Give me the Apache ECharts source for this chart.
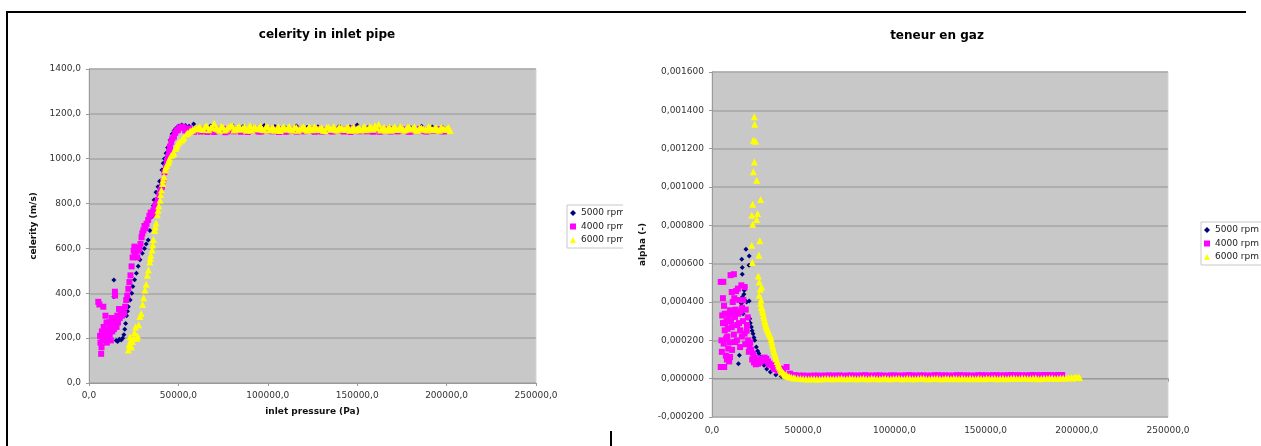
<!DOCTYPE html>
<html>
<head>
<meta charset="utf-8">
<script src="https://cdn.jsdelivr.net/npm/echarts@6/dist/echarts.min.js"></script>
<style>
  html, body { margin: 0; padding: 0; background: #fff; }
  #page { position: relative; width: 1261px; height: 446px; overflow: hidden; background: #fff; }
  #left { position: absolute; left: 0; top: 0; width: 623px; height: 446px; background: #fff; }
  #right { position: absolute; left: 623px; top: 0; width: 638px; height: 446px; background: #fff; }
  .rule { position: absolute; background: #000; }
</style>
</head>
<body>
<div id="page">
  <div id="left"></div>
  <div id="right"></div>
  <div class="rule" style="left:6px;top:11px;width:1240px;height:2px;"></div>
  <div class="rule" style="left:6px;top:11px;width:2px;height:435px;"></div>
  <div class="rule" style="left:610px;top:431px;width:2px;height:15px;"></div>
</div>
<script>
// ---- series names and legend ----
const seriesNames = ['5000 rpm', '4000 rpm', '6000 rpm'];
const seriesColors = ['#000080', '#ff00ff', '#ffff00'];
const seriesSymbols = ['diamond', 'rect', 'triangle'];
const seriesSizes = [5, 6, 7];

// ---- celerity in inlet pipe: [inlet pressure (Pa), celerity (m/s)] ----
const celerity5000 = [
  [13900,459],[13900,385],[14200,400],[15200,190],[16000,185],[17000,195],[18000,192],[18800,200],
  [19500,215],[20000,240],[20500,265],[21000,300],[21500,320],[22000,340],[23000,370],[23900,400],
  [24500,430],[25500,460],[26500,489],[27500,520],[28500,550],[29800,578],[31000,600],[32000,620],
  [33100,638],[34000,680],[35000,740],[36000,790],[36400,816],[37500,850],[38600,875],[39500,900],
  [40800,950],[41500,980],[42200,1000],[43100,1024],[44000,1050],[45300,1083],[46500,1110],
  [47500,1125],[48600,1135],[50000,1145],[51900,1150],[54000,1148],[56000,1145],[58500,1155],
  [62000,1140],[68000,1146],[74000,1138],[80000,1150],[86000,1142],[92000,1139],[98000,1148],
  [104000,1144],[110000,1137],[116000,1146],[122000,1140],[128000,1143],[134000,1138],[140000,1145],
  [146000,1141],[150000,1150],[156000,1139],[162000,1146],[168000,1140],[174000,1143],[180000,1138],
  [186000,1145],[192000,1141],[198000,1139]
];
const celerity4000 = [
  [5200,362],[5800,350],[6200,210],[6400,180],[6800,130],[7000,160],[7200,230],[7600,200],
  [8000,340],[8200,250],[8600,190],[9000,220],[9200,300],[9800,270],[10000,180],[10400,240],
  [10800,200],[11200,270],[11600,215],[12000,250],[12200,190],[12600,290],[13000,230],[13400,270],
  [14000,240],[14500,407],[14600,390],[15000,280],[15400,250],[15800,300],[16200,270],[16800,330],
  [17200,290],[17800,320],[18400,300],[19000,330],[19600,310],[20200,340],[20800,370],[21400,390],
  [22000,420],[22600,450],[23200,480],[23800,520],[24400,560],[25000,590],[25400,608],[25800,580],
  [26400,600],[27000,560],[27600,590],[28200,600],[28800,620],[29400,650],[29800,667],[30400,680],
  [31000,700],[31600,690],[32200,710],[33100,727],[33800,745],[34500,760],[35200,750],[36000,770],
  [36400,757],[37000,790],[37600,800],[38600,816],[39400,840],[40000,860],[40800,875],[41500,900],
  [42200,940],[43100,964],[43600,990],[44200,1009],[44800,1030],[45300,1054],[46000,1075],
  [46600,1090],[47500,1098],[48200,1115],[49000,1125],[49700,1128],[50500,1138],[51900,1143],
  [53000,1140],[55000,1132],[57500,1124],[60000,1128],[62500,1121],[65000,1130],[67500,1124],
  [70000,1119],[72500,1127],[75000,1133],[77500,1122],[80000,1126],[82500,1131],[85000,1120],
  [87500,1128],[90000,1124],[92500,1133],[95000,1121],[97500,1127],[100000,1130],[102500,1122],
  [105000,1126],[107500,1132],[110000,1120],[112500,1127],[115000,1124],[117500,1131],[120000,1122],
  [122500,1128],[125000,1125],[127500,1133],[130000,1121],[132500,1127],[135000,1123],[137500,1130],
  [140000,1126],[142500,1121],[145000,1129],[147500,1134],[150000,1124],[152500,1128],[155000,1122],
  [157500,1131],[160000,1125],[162500,1120],[165000,1129],[167500,1124],[170000,1132],[172500,1122],
  [175000,1127],[177500,1130],[180000,1121],[182500,1126],[185000,1133],[187500,1123],[190000,1128],
  [192500,1124],[195000,1131],[197500,1122],[200000,1127],
  [53750,1126],[56250,1135],[58750,1120],[61250,1131],[63750,1125],[66250,1119],[68750,1129],
  [71250,1123],[73750,1130],[76250,1118],[78750,1127],[81250,1122],[83750,1129],[86250,1124],
  [88750,1119],[91250,1130],[93750,1125],[96250,1121],[98750,1128],[101250,1124],[103750,1131],
  [106250,1119],[108750,1126],[111250,1123],[113750,1129],[116250,1121],[118750,1127],[121250,1124],
  [123750,1131],[126250,1120],[128750,1126],[131250,1123],[133750,1129],[136250,1121],[138750,1127],
  [141250,1124],[143750,1130],[146250,1119],[148750,1126],[151250,1122],[153750,1129],[156250,1124],
  [158750,1120],[161250,1127],[163750,1123],[166250,1130],[168750,1121],[171250,1126],[173750,1124],
  [176250,1129],[178750,1120],[181250,1127],[183750,1123],[186250,1130],[188750,1121],[191250,1126],
  [193750,1124],[196250,1129],[198750,1122]
];
const celerity6000 = [
  [22000,147],[22400,170],[22900,206],[23300,190],[23800,160],[24300,185],[25000,200],[25500,225],
  [26000,250],[26700,199],[27200,210],[27800,260],[28500,296],[29200,310],[30000,350],[30600,380],
  [31300,415],[32000,440],[32600,480],[33200,504],[34000,540],[34600,570],[35300,593],[36000,640],
  [36700,680],[37500,713],[38200,750],[39000,790],[39700,816],[40500,860],[41200,890],[41900,920],
  [42600,950],[43400,970],[44200,981],[45000,1000],[46000,1015],[47500,1025],[48500,1045],
  [49500,1065],[50500,1075],[51900,1083],[53000,1095],[54500,1110],[56300,1120],[58000,1128],
  [34300,555],[35700,615],[37100,695],[38600,770],[40100,840],[41500,905],[43000,962],[44600,990],
  [46800,1020],[49000,1055],[52500,1090],[55300,1115],[57000,1125],[59000,1132],
  [60000,1135],[62000,1142],[64000,1130],[66000,1146],[68000,1138],[70000,1158],[72000,1133],
  [74000,1145],[76000,1128],[78000,1140],[80000,1150],[82000,1131],[84000,1144],[86000,1136],
  [88000,1127],[90000,1148],[92000,1139],[94000,1132],[96000,1146],[98000,1129],[100000,1141],
  [102000,1135],[104000,1127],[106000,1143],[108000,1137],[110000,1131],[112000,1145],[114000,1128],
  [116000,1139],[118000,1133],[120000,1142],[122000,1127],[124000,1136],[126000,1144],[128000,1130],
  [130000,1138],[132000,1126],[134000,1141],[136000,1134],[138000,1129],[140000,1143],[142000,1132],
  [144000,1137],[146000,1127],[148000,1140],[150000,1135],[152000,1128],[154000,1144],[156000,1131],
  [158000,1139],[160000,1147],[162000,1154],[164000,1133],[166000,1127],[168000,1141],[170000,1136],
  [172000,1130],[174000,1145],[176000,1128],[178000,1138],[180000,1133],[182000,1142],[184000,1127],
  [186000,1137],[188000,1131],[190000,1144],[192000,1129],[194000,1139],[196000,1127],[198000,1136],
  [200000,1130],[201000,1140],[202000,1126],
  [61000,1138],[63000,1131],[65000,1144],[67000,1129],[69000,1141],[71000,1136],[73000,1127],
  [75000,1140],[77000,1133],[79000,1146],[81000,1128],[83000,1138],[85000,1131],[87000,1143],
  [89000,1134],[91000,1127],[93000,1140],[95000,1136],[97000,1130],[99000,1144],[101000,1128],
  [103000,1139],[105000,1133],[107000,1126],[109000,1142],[111000,1135],[113000,1129],[115000,1141],
  [117000,1127],[119000,1137],[121000,1132],[123000,1143],[125000,1129],[127000,1138],[129000,1134],
  [131000,1127],[133000,1140],[135000,1131],[137000,1144],[139000,1128],[141000,1136],[143000,1130],
  [145000,1141],[147000,1133],[149000,1127],[151000,1139],[153000,1135],[155000,1129],[157000,1142],
  [159000,1131],[161000,1137],[163000,1128],[165000,1140],[167000,1134],[169000,1127],[171000,1143],
  [173000,1131],[175000,1137],[177000,1129],[179000,1141],[181000,1134],[183000,1127],[185000,1139],
  [187000,1132],[189000,1128],[191000,1137],[193000,1133],[195000,1129],[197000,1140],[199000,1131]
];

// ---- teneur en gaz: [pressure (Pa), alpha (-)] ----
const alpha5000 = [
  [14500,0.000078],[15000,0.000122],[16300,0.000623],[16600,0.000580],[16600,0.000545],[18600,0.000675],
  [20400,0.000640],[20300,0.000592],[17700,0.000461],[18000,0.000409],[20400,0.000405],[16700,0.000426],
  [16100,0.000392],[17000,0.000339],[17500,0.000440],[18200,0.000480],[19000,0.000400],[20700,0.000313],
  [21000,0.000290],[21600,0.000269],[22000,0.000250],[22500,0.000235],[23000,0.000215],[23400,0.000200],
  [24300,0.000165],[25000,0.000145],[25700,0.000131],[26700,0.000113],[27500,0.000090],[28500,0.000070],
  [30000,0.000050],[32000,0.000035],[35000,0.000020],[38000,0.000012],[42000,0.000006],[48000,0.000003],
  [60000,0.000002],[80000,0.000003],[100000,0.000002],[120000,0.000004],[140000,0.000003],
  [160000,0.000004],[180000,0.000003],[200000,0.000005]
];
const alpha4000 = [
  [4800,0.000505],[4800,0.000061],[6200,0.000505],[5600,0.000330],[6000,0.000290],[6400,0.000183],
  [6700,0.000061],[7000,0.000339],[7000,0.000252],[7600,0.000120],[8000,0.000304],[8400,0.000220],
  [8900,0.000157],[9400,0.000090],[9900,0.000357],[9900,0.000113],[10200,0.000540],[10800,0.000452],
  [10800,0.000269],[11400,0.000400],[12000,0.000545],[12000,0.000230],[12600,0.000322],[12600,0.000191],
  [13200,0.000457],[13800,0.000280],[14400,0.000339],[15000,0.000410],[15400,0.000252],[15400,0.000165],
  [16100,0.000487],[16500,0.000370],[17000,0.000300],[17900,0.000478],[17900,0.000235],[18500,0.000360],
  [19200,0.000280],[19800,0.000200],[20700,0.000165],[21500,0.000150],[22500,0.000131],[23500,0.000110],
  [24300,0.000095],[25200,0.000078],[26500,0.000085],[27900,0.000096],[28800,0.000110],[29800,0.000104],
  [30700,0.000090],[31600,0.000078],[32600,0.000070],[33600,0.000061],[35000,0.000055],[37300,0.000052],
  [39000,0.000050],[40900,0.000061],[42800,0.000026],
  [5200,0.000200],[5400,0.000140],[6000,0.000420],[6600,0.000380],[7200,0.000290],[7800,0.000210],
  [8200,0.000100],[8600,0.000260],[9200,0.000330],[9600,0.000190],[10400,0.000300],[11000,0.000150],
  [11600,0.000340],[12200,0.000420],[13000,0.000360],[13600,0.000200],[14200,0.000470],[14800,0.000290],
  [15600,0.000350],[16400,0.000220],[17200,0.000410],[18200,0.000180],[19000,0.000250],[19600,0.000320],
  [20200,0.000140],[21000,0.000190],[22000,0.000100],[23000,0.000085],[24000,0.000075],[25800,0.000090],
  [27200,0.000105],[29200,0.000095],[31000,0.000075],[34000,0.000050],[36000,0.000040],
  [45000,0.000018],[46000,0.000017],[48000,0.000016],[50000,0.000016],[52000,0.000015],[54000,0.000015],
  [56000,0.000016],[58000,0.000016],[60000,0.000015],[62000,0.000016],[64000,0.000017],[66000,0.000016],
  [68000,0.000016],[70000,0.000017],[72000,0.000015],[74000,0.000016],[76000,0.000017],[78000,0.000016],
  [80000,0.000016],[82000,0.000017],[84000,0.000018],[86000,0.000016],[88000,0.000016],[90000,0.000017],
  [92000,0.000017],[94000,0.000016],[96000,0.000015],[98000,0.000017],[100000,0.000017],[102000,0.000016],
  [104000,0.000016],[106000,0.000017],[108000,0.000018],[110000,0.000017],[112000,0.000016],[114000,0.000017],
  [116000,0.000017],[118000,0.000016],[120000,0.000016],[122000,0.000018],[124000,0.000018],[126000,0.000017],
  [128000,0.000017],[130000,0.000016],[132000,0.000016],[134000,0.000018],[136000,0.000018],[138000,0.000017],
  [140000,0.000017],[142000,0.000016],[144000,0.000016],[146000,0.000018],[148000,0.000018],[150000,0.000017],
  [152000,0.000017],[154000,0.000018],[156000,0.000018],[158000,0.000017],[160000,0.000017],[162000,0.000018],
  [164000,0.000019],[166000,0.000018],[168000,0.000018],[170000,0.000017],[172000,0.000017],[174000,0.000018],
  [176000,0.000019],[178000,0.000018],[180000,0.000018],[182000,0.000019],[184000,0.000019],[186000,0.000018],
  [188000,0.000018],[190000,0.000019],[192000,0.000019]
];
const alpha6000 = [
  [23200,0.001366],[23400,0.001328],[22700,0.001244],[23900,0.001239],[23200,0.001131],[22700,0.001079],
  [24500,0.001035],[26700,0.000935],[22300,0.000910],[21800,0.000853],[25000,0.000862],[24500,0.000830],
  [22300,0.000806],[26200,0.000719],[21800,0.000696],[25700,0.000644],[22100,0.000606],[25400,0.000536],
  [25900,0.000505],[27200,0.000478],[26400,0.000466],[25900,0.000435],[26700,0.000392],[27100,0.000375],
  [27600,0.000357],[28200,0.000330],[28900,0.000304],[29500,0.000280],[30100,0.000265],[30700,0.000252],
  [31400,0.000235],[32200,0.000217],[32800,0.000190],[33500,0.000160],[34400,0.000131],[35200,0.000105],
  [36200,0.000078],[37000,0.000060],[38000,0.000043],[39300,0.000028],[40800,0.000017],[42500,0.000010],
  [26900,0.000410],[27400,0.000370],[27900,0.000345],[28500,0.000318],[29200,0.000292],[29800,0.000272],
  [30400,0.000258],[31000,0.000243],[31800,0.000226],[32500,0.000205],[33100,0.000175],[33900,0.000145],
  [34800,0.000118],[35700,0.000090],[36600,0.000068],[37500,0.000050],[38600,0.000035],[40000,0.000022],
  [41600,0.000013],[43500,0.000007],
  [44600,0.000005],[47000,0.000002],[50000,0.000000],[53000,-0.000002],[56000,0.000000],[59000,-0.000002],
  [62000,0.000001],[65000,-0.000001],[68000,0.000000],[71000,0.000002],[74000,-0.000001],[77000,0.000001],
  [80000,0.000000],[83000,0.000002],[86000,-0.000001],[89000,0.000001],[92000,0.000000],[95000,0.000002],
  [98000,0.000000],[101000,0.000001],[104000,-0.000001],[107000,0.000002],[110000,0.000000],
  [113000,0.000001],[116000,0.000002],[119000,0.000000],[122000,0.000001],[125000,-0.000001],
  [128000,0.000002],[131000,0.000000],[134000,0.000001],[137000,0.000002],[140000,0.000000],
  [143000,0.000001],[146000,0.000002],[149000,0.000000],[152000,0.000001],[155000,0.000002],
  [158000,0.000001],[161000,0.000000],[164000,0.000002],[167000,0.000001],[170000,0.000003],
  [173000,0.000001],[176000,0.000002],[179000,0.000000],[182000,0.000002],[185000,0.000003],
  [188000,0.000001],[191000,0.000003],[194000,0.000004],[197000,0.000006],[199000,0.000008],
  [201000,0.000005],
  [45500,0.000003],[48500,0.000001],[51500,-0.000001],[54500,0.000000],[57500,-0.000002],[60500,0.000000],
  [63500,0.000001],[66500,-0.000001],[69500,0.000001],[72500,0.000000],[75500,0.000002],[78500,-0.000001],
  [81500,0.000001],[84500,0.000000],[87500,0.000002],[90500,0.000000],[93500,0.000001],[96500,-0.000001],
  [99500,0.000001],[102500,0.000002],[105500,0.000000],[108500,0.000001],[111500,-0.000001],
  [114500,0.000002],[117500,0.000000],[120500,0.000001],[123500,0.000002],[126500,0.000000],
  [129500,0.000001],[132500,0.000002],[135500,0.000000],[138500,0.000001],[141500,0.000002],
  [144500,0.000000],[147500,0.000001],[150500,0.000002],[153500,0.000001],[156500,0.000000],
  [159500,0.000002],[162500,0.000001],[165500,0.000003],[168500,0.000001],[171500,0.000002],
  [174500,0.000001],[177500,0.000003],[180500,0.000001],[183500,0.000002],[186500,0.000004],
  [189500,0.000002],[192500,0.000003],[195500,0.000005],[198000,0.000004],[200000,0.000009],
  [201500,0.000006]
];

// ---- axis ticks ----
const celerityTicks = { min: 0, max: 1400, interval: 200, decimals: 1 };
const alphaTicks = { min: -0.0002, max: 0.0016, interval: 0.0002, decimals: 6 };
const pressureTicks = { min: 0, max: 250000, interval: 50000, decimals: 1 };

const FONT = 'DejaVu Sans';
const fmt = (v, d) => (Math.abs(v) < 1e-12 ? 0 : v).toFixed(d).replace('.', ',');

function buildOption(cfg) {
  return {
    animation: false,
    textStyle: { fontFamily: FONT },
    title: {
      text: cfg.title, left: cfg.titleX, top: cfg.titleY, textAlign: 'center', padding: 0,
      textStyle: { fontFamily: FONT, fontSize: 12, fontWeight: 'bold', color: '#000' }
    },
    legend: {
      orient: 'vertical', left: cfg.legendX, top: cfg.legendY,
      backgroundColor: '#fff', borderColor: '#c8c8c8', borderWidth: 1,
      padding: [3, 40, 3, 3], itemGap: 3.5, itemWidth: 6, itemHeight: 6,
      textStyle: { fontFamily: FONT, fontSize: 9, color: '#222', lineHeight: 10 },
      data: seriesNames.map((n, i) => ({ name: n, icon: seriesSymbols[i] }))
    },
    grid: {
      left: cfg.gridLeft, top: cfg.gridTop, width: cfg.gridWidth, height: cfg.gridHeight,
      outerBoundsMode: 'none', containLabel: false,
      show: true, backgroundColor: '#c8c8c8', borderColor: '#d6d6d6', borderWidth: 1
    },
    xAxis: {
      type: 'value', min: pressureTicks.min, max: pressureTicks.max, interval: pressureTicks.interval,
      name: cfg.xName, nameLocation: 'middle', nameGap: cfg.xNameGap,
      nameTextStyle: { fontFamily: FONT, fontSize: 9, fontWeight: 'bold', color: '#111' },
      axisLine: { onZero: true, onZeroAxisIndex: 0, lineStyle: { color: '#9a9a9a', width: 1 } },
      axisTick: { show: true, length: 3, lineStyle: { color: '#9a9a9a' } },
      axisLabel: { fontFamily: FONT, fontSize: 9, color: '#333', margin: cfg.xLabelMargin,
        formatter: v => fmt(v, pressureTicks.decimals) },
      splitLine: { show: false }
    },
    yAxis: {
      type: 'value', min: cfg.y.min, max: cfg.y.max, interval: cfg.y.interval,
      name: cfg.yName, nameLocation: 'middle', nameGap: cfg.yNameGap,
      nameTextStyle: { fontFamily: FONT, fontSize: 9, fontWeight: 'bold', color: '#111' },
      axisLine: { show: true, onZero: false, lineStyle: { color: '#9a9a9a', width: 1 } },
      axisTick: { show: true, length: 3, lineStyle: { color: '#9a9a9a' } },
      axisLabel: { fontFamily: FONT, fontSize: 9, color: '#333', margin: 8,
        formatter: v => fmt(v, cfg.y.decimals) },
      splitLine: { show: true, lineStyle: { color: '#a6a6a6', width: 1.5 } }
    },
    series: cfg.data.map((d, i) => ({
      name: seriesNames[i], type: 'scatter', data: d,
      symbol: seriesSymbols[i], symbolSize: seriesSizes[i],
      itemStyle: { color: seriesColors[i], opacity: 1 },
      z: 2 + i
    }))
  };
}

const leftChart = echarts.init(document.getElementById('left'), null, { renderer: 'canvas' });
leftChart.setOption(buildOption({
  title: 'celerity in inlet pipe', titleX: 327, titleY: 29,
  legendX: 567, legendY: 205,
  gridLeft: 89, gridTop: 69, gridWidth: 447, gridHeight: 314,
  xName: 'inlet pressure (Pa)', xNameGap: 24, xLabelMargin: 8,
  yName: 'celerity (m/s)', yNameGap: 39,
  y: celerityTicks,
  data: [celerity5000, celerity4000, celerity6000]
}));

const rightChart = echarts.init(document.getElementById('right'), null, { renderer: 'canvas' });
rightChart.setOption(buildOption({
  title: 'teneur en gaz', titleX: 314, titleY: 30,
  legendX: 578, legendY: 222,
  gridLeft: 89, gridTop: 72, gridWidth: 456, gridHeight: 345,
  xName: 'pressure (Pa)', xNameGap: 48, xLabelMargin: 9,
  yName: 'alpha (-)', yNameGap: 61,
  y: alphaTicks,
  data: [alpha5000, alpha4000, alpha6000]
}));
</script>
</body>
</html>
